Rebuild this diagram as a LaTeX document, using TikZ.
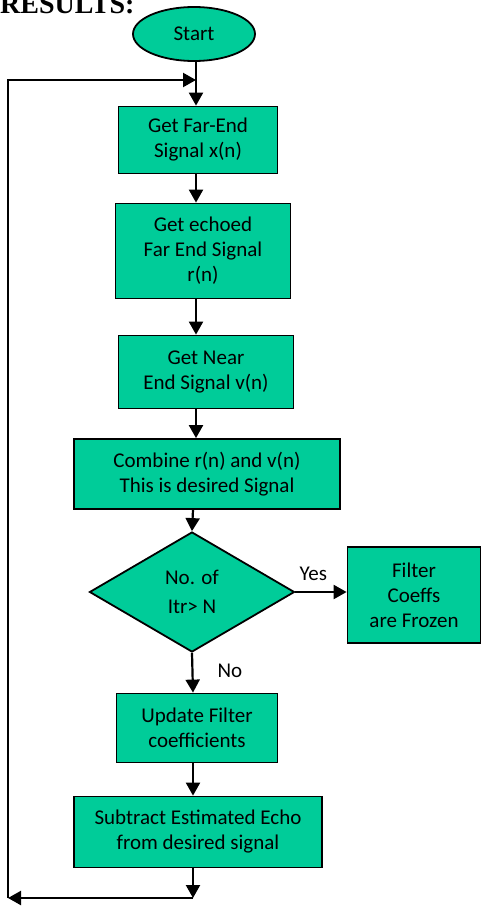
\documentclass[tikz,border=0pt]{standalone}
\usepackage{fontspec}
\setmainfont{Carlito}
\newfontfamily\headfont{Liberation Serif}
\usetikzlibrary{arrows.meta, shapes.geometric, positioning, calc}
\definecolor{flowgreen}{RGB}{0,204,153}
\tikzset{
  procbox/.style={
    rectangle, inner sep=0pt,
    minimum width=160pt, minimum height=70pt,
    text centered, align=center, font=\fontsize{21}{25}\selectfont,
    draw=black, line width=1.8pt, fill=#1
  },
  procbox/.default=flowgreen,
  termnode/.style={
    ellipse, inner sep=0pt,
    minimum width=122pt, minimum height=54pt,
    font=\fontsize{21}{25}\selectfont,
    draw=black, line width=1.8pt, fill=#1
  },
  termnode/.default=flowgreen,
  decnode/.style={
    diamond, inner sep=0pt, aspect=1.7,
    minimum width=205pt, minimum height=120pt,
    text centered, align=center, font=\fontsize{21}{25}\selectfont,
    draw=black, line width=1.8pt, fill=#1
  },
  decnode/.default=flowgreen,
  flowarrow/.style={-{Triangle[length=13pt, width=14pt]}, line width=2.2pt, color=black},
  flowlabel/.style={font=\fontsize{21}{25}\selectfont, inner sep=0pt},
}

\begin{document}
\begin{tikzpicture}[x=1pt, y=-1pt]
    \useasboundingbox (0,0) rectangle (482,907);
    \node[anchor=base west, inner sep=0pt, font=\headfont\bfseries\fontsize{28}{30}\selectfont] (head) at (0,14) {RESULTS:};

    \node[termnode] (start) at (194,34) {Start};
    \node[procbox, minimum width=159pt, minimum height=67pt] (farsig)  at (198,140) {Get Far-End\\Signal x(n)};
    \node[procbox, minimum width=175pt, minimum height=95pt] (echosig) at (203,251) {Get echoed\\Far End Signal\\r(n)};
    \node[procbox, minimum width=175pt, minimum height=73pt] (nearsig) at (206,372) {Get Near\\End Signal v(n)};
    \node[procbox, minimum width=266pt, minimum height=70pt] (combine) at (207,474) {Combine r(n) and v(n)\\This is desired Signal};
    \node[decnode] (itrchk) at (192,592) {No. of\\[4pt]Itr> N};
    \node[procbox, minimum width=133pt, minimum height=96pt] (frozen)  at (414,595) {Filter\\Coeffs\\are Frozen};
    \node[procbox, minimum width=161pt, minimum height=69pt] (update)  at (197,728) {Update Filter\\coefficients};
    \node[procbox, minimum width=248pt, minimum height=71pt] (subtract) at (198,832) {Subtract Estimated Echo\\from desired signal};

    \coordinate (loopin)  at (196,80);
    \coordinate (looptl)  at (8,80);
    \coordinate (loopbl)  at (8,898);
    \coordinate (loopbm)  at (193,898);

    % main chain
    \draw[flowarrow] (start.south -| loopin) -- (loopin |- farsig.north);
    \draw[flowarrow] (farsig.south -| loopin) -- (loopin |- echosig.north);
    \draw[flowarrow] (echosig.south -| loopin) -- (loopin |- nearsig.north);
    \draw[flowarrow] (nearsig.south -| loopin) -- (loopin |- combine.north);
    \draw[flowarrow] (combine.south -| loopbm) -- (itrchk.north);
    \draw[flowarrow] (itrchk.east) -- (frozen.west |- itrchk.east)
        node[flowlabel, pos=0.35, above=10pt] (yes) {Yes};
    \draw[flowarrow] (itrchk.south) -- (loopbm |- update.north)
        node[flowlabel, pos=0.45, right=24pt] (no) {No};
    \draw[flowarrow] (update.south -| loopbm) -- (loopbm |- subtract.north);
    \draw[flowarrow] (subtract.south -| loopbm) -- (loopbm);

    % feedback loop
    \draw[flowarrow] (loopbm) -- (loopbl);
    \draw[flowarrow] (loopbl) -- (looptl) -- (loopin);
\end{tikzpicture}
\end{document}
